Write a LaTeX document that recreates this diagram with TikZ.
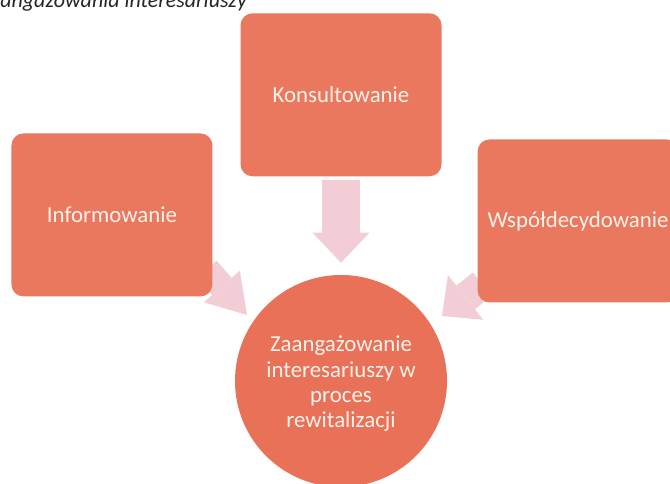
\documentclass[tikz,border=0pt]{standalone}
\usepackage{fontspec}
\setmainfont{Carlito}
\usetikzlibrary{positioning,arrows.meta,backgrounds}
\definecolor{boxfill}{RGB}{234,120,94}
\definecolor{hubfill}{RGB}{232,113,88}
\definecolor{flowpink}{RGB}{243,205,213}
\definecolor{cream}{RGB}{253,242,234}
\tikzset{
	stage/.style={fill=boxfill, rounded corners=0.24cm, minimum width=4.02cm, minimum height=3.26cm, text=cream, font=\fontsize{13}{15}\selectfont},
	hub/.style={circle, fill=hubfill, minimum size=4.24cm, inner sep=0pt, align=center, text=cream, font=\fontsize{13}{14.4}\selectfont},
	flow/.style n args={3}{draw=flowpink, line width=#1, -{Triangle[width=#2,length=#3,line width=0pt]}}
}
\begin{document}
\begin{tikzpicture}
	\useasboundingbox (0,0) rectangle (13.4,9.68);
	\clip (0,0) rectangle (13.4,9.68);
	%% podpis (obciety)
	\node[anchor=base west, inner sep=0pt, font=\fontsize{12.5}{14}\selectfont\itshape, text=black!85] (caption) at (0,9.52) {angażowania interesariuszy};
	%% srodek
	\node[hub] (hub) at (6.82,2.06) {\\[-2pt]Zaangażowanie\\interesariuszy w\\proces\\rewitalizacji};
	%% formy zaangazowania
	\node[stage, above=1.96cm of hub] (konsult) {Konsultowanie};
	\node[stage, above left=0.18cm and 1.06cm of hub] (inform) {Informowanie};
	\node[stage, above right=0.06cm and 1.22cm of hub] (wspol) {Współdecydowanie};
	\coordinate (infotip) at (4.94,3.38);
	\coordinate (wspoltip) at (8.84,3.36);
	% strzalki pod ramkami
	\begin{scope}[on background layer]
		\draw[flow={0.76cm}{1.14cm}{0.6cm}, shorten <=0.06cm, shorten >=0.24cm] (konsult) -- (hub);
		\draw[flow={0.52cm}{0.96cm}{0.76cm}] ([shift={(-0.12,0.55)}]inform.south east) -- (infotip);
		\draw[flow={0.6cm}{1.14cm}{0.6cm}] ([shift={(0.1,0.37)}]wspol.south west) -- (wspoltip);
	\end{scope}
\end{tikzpicture}
\end{document}
